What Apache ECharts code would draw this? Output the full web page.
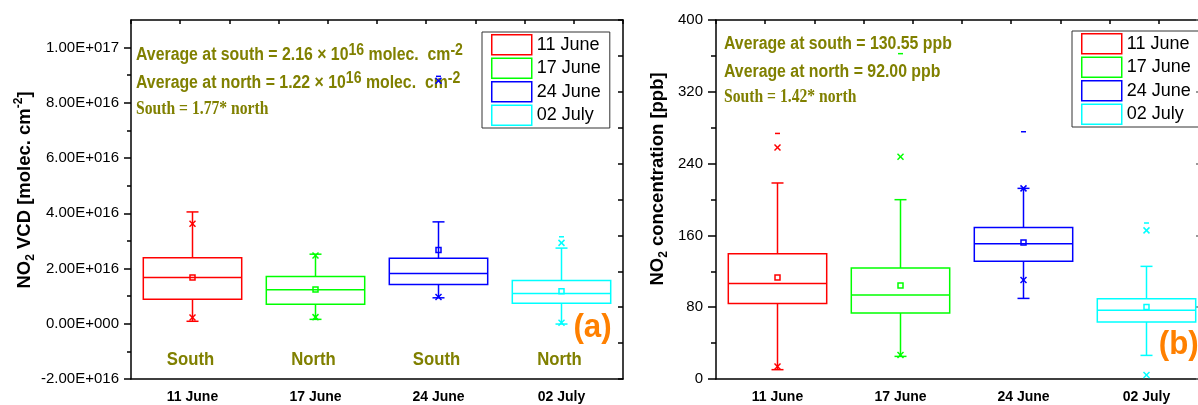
<!DOCTYPE html>
<html><head><meta charset="utf-8">
<script src="https://cdn.jsdelivr.net/npm/echarts@6/dist/echarts.min.js"></script>
<style>html,body{margin:0;padding:0;background:#fff}#c{width:1198px;height:405px}</style>
</head><body><div id="c"></div>
<script>
// ---------- DATA ----------
const categories = ['11 June', '17 June', '24 June', '02 July'];
const regions = ['South', 'North', 'South', 'North'];

// Panel (a): NO2 VCD [molec. cm^-2]
const vcdWhiskerLow  = [0.09e16, 0.16e16, 0.94e16, -0.01e16];
const vcdQ1          = [0.89e16, 0.71e16, 1.42e16, 0.74e16];
const vcdMedian      = [1.68e16, 1.23e16, 1.82e16, 1.10e16];
const vcdQ3          = [2.39e16, 1.71e16, 2.37e16, 1.57e16];
const vcdWhiskerHigh = [4.05e16, 2.52e16, 3.69e16, 2.74e16];
const vcdMean        = [1.68e16, 1.24e16, 2.67e16, 1.18e16];
const vcdP1          = [0.23e16, 0.24e16, 0.97e16, 0.04e16];
const vcdP99         = [3.62e16, 2.47e16, 8.80e16, 2.93e16];
const vcdMax         = [null, null, 8.96e16, 3.15e16];
const vcdAxisMin = -2e16, vcdAxisMax = 1.1e17, vcdAxisStep = 2e16;

// Panel (b): NO2 concentration [ppb]
const concWhiskerLow  = [10.4, 25.2, 89.8, 26.3];
const concQ1          = [84.0, 73.5, 131.1, 63.5];
const concMedian      = [106.4, 93.6, 150.7, 76.5];
const concQ3          = [139.5, 123.7, 168.9, 89.5];
const concWhiskerHigh = [218.4, 199.8, 212.4, 125.5];
const concMean        = [113.2, 104.3, 152.2, 80.2];
const concP1          = [14.0, 26.7, 110.3, 4.4];
const concP99         = [258.0, 247.7, 212.4, 165.6];
const concMax         = [273.6, 362.5, 275.5, 173.8];
const concAxisMin = 0, concAxisMax = 400, concAxisStep = 80;

// ---------- STYLE ----------
const colors = ['#ff0000', '#00ff00', '#0000ff', '#00ffff'];
const OLIVE = '#808000';
const ORANGE = '#ff8000';
const FONT = '"Liberation Sans", Arial, sans-serif';
const SERIF = '"Liberation Serif", "Times New Roman", serif';

// major / minor tick values of the VCD axis (from min up to the last full step)
const vcdMajor = [], vcdMinor = [];
for (let k = 0; vcdAxisMin + k * vcdAxisStep <= vcdAxisMax + 1; k++) {
  vcdMajor.push(vcdAxisMin + k * vcdAxisStep);
  const m = vcdAxisMin + (k + 0.5) * vcdAxisStep;
  if (m < vcdAxisMax) vcdMinor.push(m);
}

function sci(v) {
  if (Math.abs(v) < 1) return '0.00E+000';
  const parts = v.toExponential(2).split('e');
  const n = parseInt(parts[1], 10);
  return parts[0] + 'E' + (n < 0 ? '-' : '+') + String(Math.abs(n)).padStart(3, '0');
}

function makeRender(labels) {
  return function (params, api) {
    const i = api.value(0);
    const c = api.visual('color');
    const yOf = k => api.coord([i, api.value(k)])[1];
    const cx = api.coord([i, api.value(3)])[0];
    const bw = api.size([1, 0])[0] * 0.8;
    const h = bw / 2;
    const st = () => ({ stroke: c, lineWidth: 1.5, fill: null });
    const line = (x1, y1, x2, y2) => ({ type: 'line', shape: { x1, y1, x2, y2 }, style: st() });
    const yLow = yOf(1), yQ1 = yOf(2), yMed = yOf(3), yQ3 = yOf(4), yHigh = yOf(5),
          yMean = yOf(6), yPL = yOf(7), yPH = yOf(8);
    const kids = [];
    kids.push({ type: 'rect', shape: { x: cx - h, y: yQ3, width: bw, height: yQ1 - yQ3 }, style: st() });
    kids.push(line(cx - h, yMed, cx + h, yMed));
    kids.push(line(cx, yQ3, cx, yHigh), line(cx - 6, yHigh, cx + 6, yHigh));
    kids.push(line(cx, yQ1, cx, yLow), line(cx - 6, yLow, cx + 6, yLow));
    kids.push({ type: 'rect', shape: { x: cx - 2.5, y: yMean - 2.5, width: 5, height: 5 }, style: st() });
    [yPL, yPH].forEach(yy => {
      kids.push(line(cx - 3, yy - 3, cx + 3, yy + 3), line(cx - 3, yy + 3, cx + 3, yy - 3));
    });
    const md = api.value(9);
    if (!isNaN(md)) {
      const yd = yOf(9);
      kids.push(line(cx - 2.5, yd, cx + 2.5, yd));
    }
    if (labels) {
      kids.push({
        type: 'text', x: cx - 2, y: api.coord([i, 0])[1] + 36, scaleX: 0.88,
        style: { text: labels[i], fill: OLIVE, font: 'bold 19px ' + FONT, align: 'center', verticalAlign: 'middle' }
      });
    }
    return { type: 'group', children: kids };
  };
}

function buildSeries(gridIdx, arrs, labels) {
  return categories.map((name, i) => ({
    type: 'custom',
    name: name,
    xAxisIndex: gridIdx * 2,
    yAxisIndex: gridIdx * 2,
    itemStyle: { color: colors[i] },
    encode: { x: 0, y: [1, 2, 3, 4, 5] },
    renderItem: makeRender(labels),
    data: [[i].concat(arrs.map(a => (a[i] === null ? '-' : a[i])))]
  }));
}

const seriesA = buildSeries(0, [vcdWhiskerLow, vcdQ1, vcdMedian, vcdQ3, vcdWhiskerHigh, vcdMean, vcdP1, vcdP99, vcdMax], regions);
const seriesB = buildSeries(1, [concWhiskerLow, concQ1, concMedian, concQ3, concWhiskerHigh, concMean, concP1, concP99, concMax], null);

const axisLine = { show: true, onZero: false, lineStyle: { color: '#000', width: 1.5 } };

function catAxis(grid) {
  return {
    type: 'category', gridIndex: grid, data: categories, position: 'bottom', boundaryGap: true,
    axisLine: axisLine,
    axisTick: { alignWithLabel: true, length: 5, lineStyle: { color: '#000', width: 1.5 } },
    axisLabel: { fontSize: 14, fontWeight: 'bold', color: '#000', fontFamily: FONT, margin: 11 },
    splitLine: { show: false }
  };
}
function topAxis(grid) {
  return {
    type: 'value', gridIndex: grid, position: 'top', min: 0, max: 10, interval: 1,
    axisLine: axisLine,
    axisTick: { inside: true, length: 4, lineStyle: { color: '#000', width: 1.5 } },
    axisLabel: { show: false }, splitLine: { show: false }
  };
}

const legendData = categories.map((n, i) => ({
  name: n, icon: 'rect',
  itemStyle: { color: 'rgba(0,0,0,0)', borderColor: colors[i], borderWidth: 1.5 }
}));
function legend(left, top) {
  return {
    left: left, top: top, orient: 'vertical', itemWidth: 40, itemHeight: 20, itemGap: 2,
    padding: [2, 9, 2, 9], borderColor: '#333', borderWidth: 1, selectedMode: false,
    textStyle: { fontSize: 18, color: '#000', fontFamily: FONT },
    data: legendData
  };
}

const richMain = (size) => ({ fontSize: size, fontWeight: 'bold', fontFamily: FONT, fill: OLIVE, lineHeight: 24 });
const richSup = { fontSize: 16, fontWeight: 'bold', fontFamily: FONT, fill: OLIVE, lineHeight: 4, verticalAlign: 'top' };

function annot(x, y, text) {
  return {
    type: 'text', x: x, y: y, scaleX: 0.88,
    style: { text: text, rich: { m: richMain(18), s: richSup }, align: 'left', verticalAlign: 'middle' }
  };
}
function serifAnnot(x, y, text) {
  return {
    type: 'text', x: x, y: y, scaleX: 0.87,
    style: { text: text, font: 'bold 18px ' + SERIF, fill: OLIVE, align: 'left', verticalAlign: 'middle' }
  };
}
function yTitle(x, y, text) {
  return {
    type: 'text', x: x, y: y, rotation: Math.PI / 2,
    style: {
      text: text, align: 'center', verticalAlign: 'middle',
      rich: {
        m: { fontSize: 18.5, fontWeight: 'bold', fontFamily: FONT, fill: '#000', lineHeight: 24 },
        sub: { fontSize: 12, fontWeight: 'bold', fontFamily: FONT, fill: '#000', lineHeight: 4, verticalAlign: 'bottom' },
        sup: { fontSize: 12, fontWeight: 'bold', fontFamily: FONT, fill: '#000', lineHeight: 4, verticalAlign: 'top' }
      }
    }
  };
}

const option = {
  backgroundColor: '#fff',
  animation: false,
  grid: [
    { left: 131, top: 20, width: 492, height: 359, outerBoundsMode: 'none', containLabel: false },
    { left: 716, top: 20, width: 492, height: 359, outerBoundsMode: 'none', containLabel: false }
  ],
  xAxis: [catAxis(0), topAxis(0), catAxis(1), topAxis(1)],
  yAxis: [
    {
      type: 'value', gridIndex: 0, position: 'left', min: vcdAxisMin, max: vcdAxisMax, interval: vcdAxisStep,
      axisLine: axisLine,
      axisTick: { length: 7, customValues: vcdMajor, lineStyle: { color: '#000', width: 1.5 } },
      axisLabel: { formatter: sci, customValues: vcdMajor, fontSize: 15, color: '#000', fontFamily: FONT, margin: 12 },
      splitLine: { show: false }
    },
    {
      type: 'value', gridIndex: 0, position: 'right', min: 0, max: 10, interval: 1,
      axisLine: axisLine,
      axisTick: { inside: true, length: 5, lineStyle: { color: '#000', width: 1.5 } },
      axisLabel: { show: false }, splitLine: { show: false }
    },
    {
      type: 'value', gridIndex: 1, position: 'left', min: concAxisMin, max: concAxisMax, interval: concAxisStep,
      axisLine: axisLine,
      axisTick: { length: 8, lineStyle: { color: '#000', width: 1.5 } },
      minorTick: { show: true, splitNumber: 2, length: 5, lineStyle: { color: '#000', width: 1.5 } },
      axisLabel: { fontSize: 15, color: '#000', fontFamily: FONT, margin: 13 },
      splitLine: { show: false }
    },
    {
      type: 'value', gridIndex: 1, position: 'right', min: concAxisMin, max: concAxisMax, interval: concAxisStep,
      axisLine: axisLine,
      axisTick: { inside: true, length: 12, lineStyle: { color: '#777', width: 1.5 } },
      minorTick: { show: true, splitNumber: 2, length: 5, lineStyle: { color: '#777', width: 1.5 } },
      axisLabel: { show: false }, splitLine: { show: false }
    },
    {
      // minor ticks of the VCD axis
      type: 'value', gridIndex: 0, position: 'left', min: vcdAxisMin, max: vcdAxisMax, interval: vcdAxisStep,
      axisLine: { show: false },
      axisTick: { length: 4, customValues: vcdMinor, lineStyle: { color: '#000', width: 1.5 } },
      axisLabel: { show: false }, splitLine: { show: false }
    }
  ],
  legend: [legend(482, 32), legend(1072, 31)],
  series: seriesA.concat(seriesB),
  graphic: {
    elements: [
      annot(136, 55, '{m|Average at south = 2.16 × 10}{s|16}{m| molec.  cm}{s|-2}'),
      annot(136, 83, '{m|Average at north = 1.22 × 10}{s|16}{m| molec.  cm}{s|-2}'),
      serifAnnot(136, 109, 'South = 1.77* north'),
      annot(724, 44.5, '{m|Average at south = 130.55 ppb}'),
      annot(724, 72, '{m|Average at north = 92.00 ppb}'),
      serifAnnot(724, 97.5, 'South = 1.42* north'),
      yTitle(25, 190, '{m|NO}{sub|2}{m| VCD [molec. cm}{sup|-2}{m|]}'),
      yTitle(657.5, 179, '{m|NO}{sub|2}{m| concentration [ppb]}'),
      { type: 'text', x: 592.5, y: 327.5, scaleX: 0.92,
        style: { text: '(a)', font: 'bold 34px ' + FONT, fill: ORANGE, align: 'center', verticalAlign: 'middle' } },
      { type: 'text', x: 1178.7, y: 345, scaleX: 0.92,
        style: { text: '(b)', font: 'bold 34px ' + FONT, fill: ORANGE, align: 'center', verticalAlign: 'middle' } }
    ]
  }
};

const chart = echarts.init(document.getElementById('c'), null, { renderer: 'canvas' });
chart.setOption(option);
</script>
</body></html>
